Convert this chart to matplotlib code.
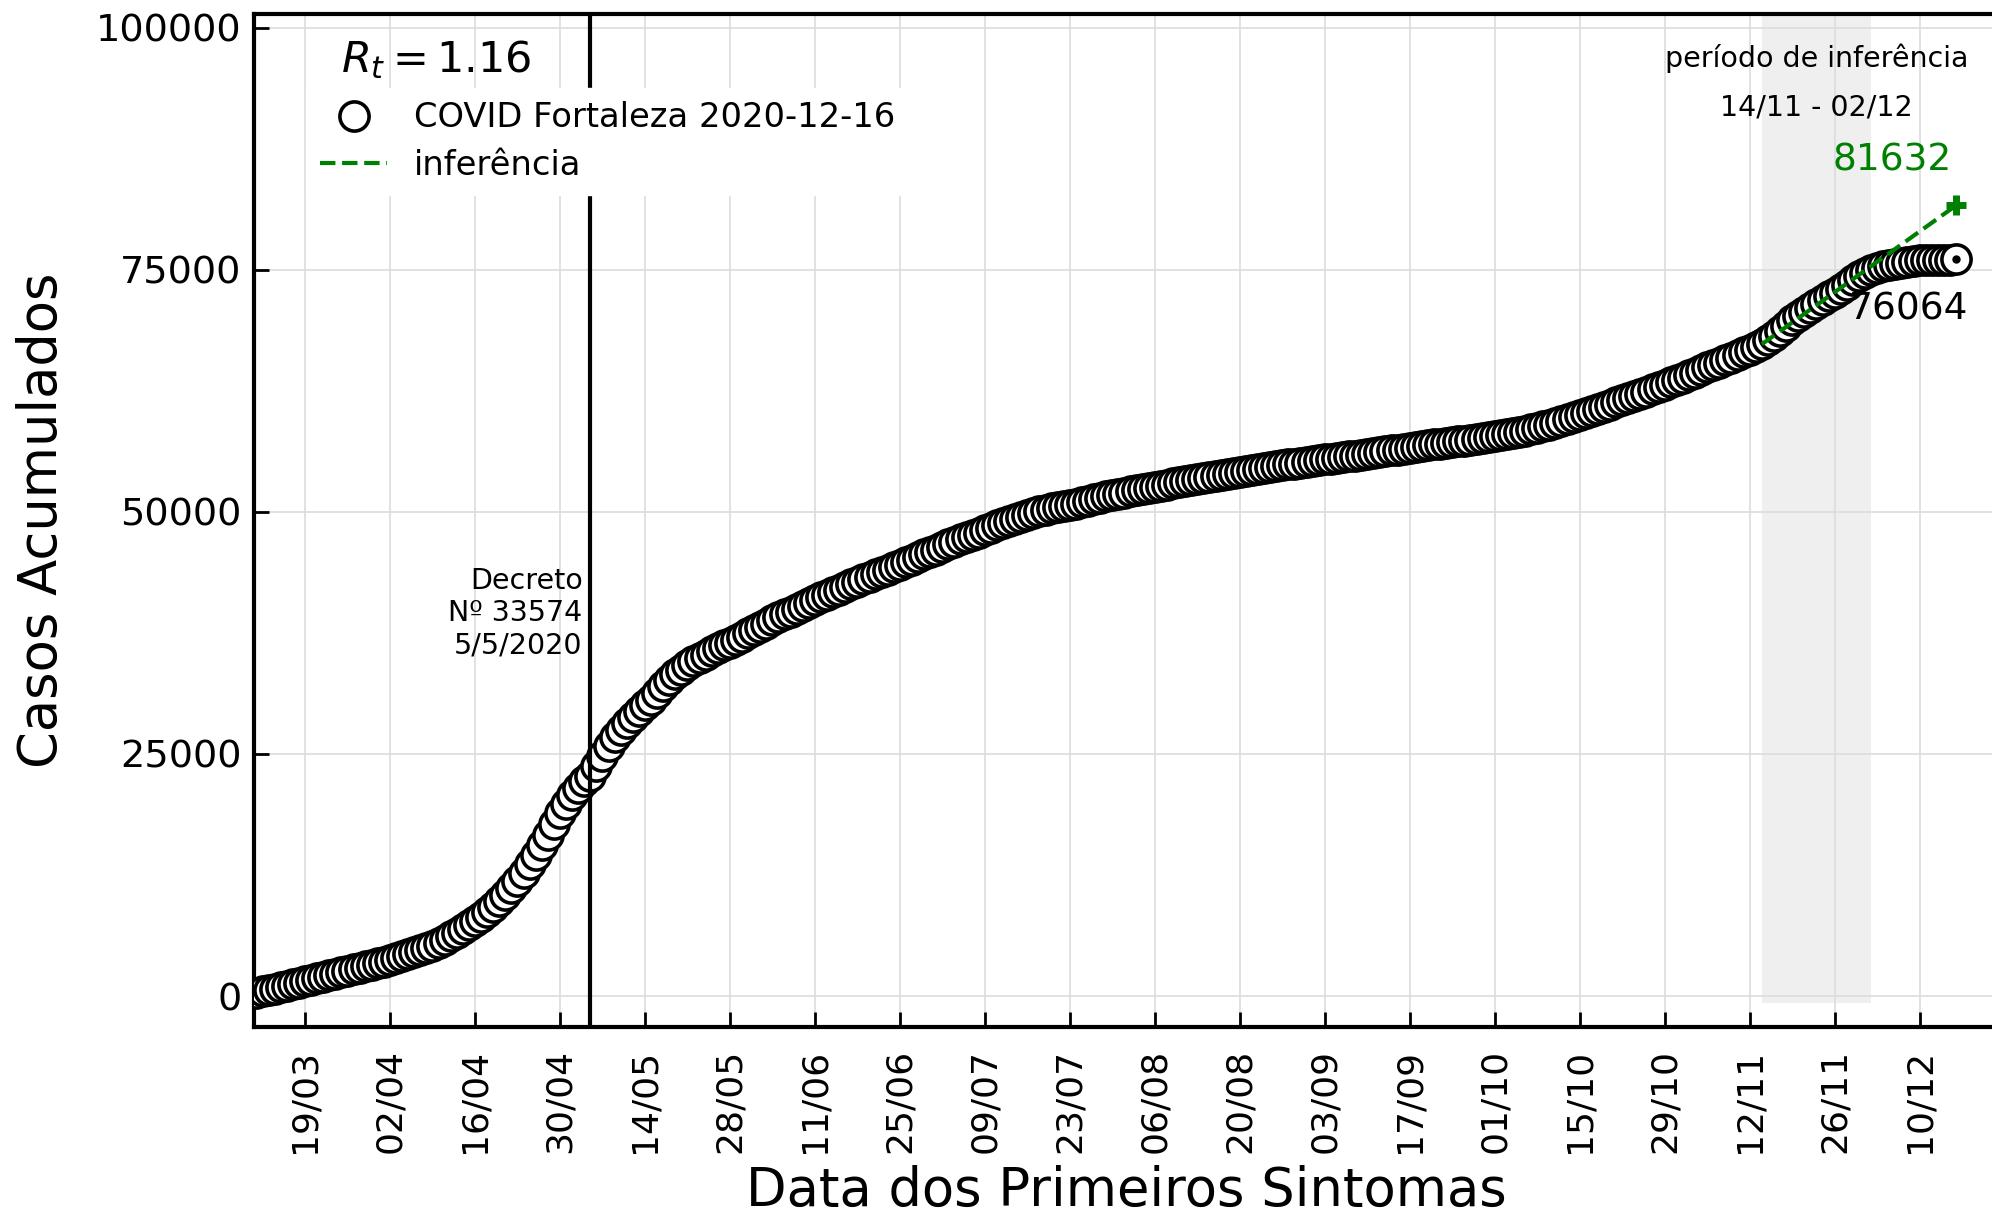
import matplotlib
matplotlib.use('Agg')
import matplotlib.pyplot as plt
import matplotlib.dates as mdates
import matplotlib.transforms as mtransforms
import numpy as np
import pandas as pd

# casos acumulados por data de primeiros sintomas (11/03 a 16/12/2020)
casos = [
    300, 480, 620, 760, 900, 1050, 1200, 1350,
    1500, 1660, 1820, 1980, 2130, 2290, 2440,
    2600, 2750, 2900, 3060, 3220, 3380, 3540,
    3700, 3900, 4100, 4300, 4520, 4740, 4970,
    5200, 5500, 5820, 6160, 6520, 6900, 7300,
    7700, 8150, 8650, 9200, 9800, 10450, 11150,
    11900, 12750, 13650, 14600, 15600, 16650, 17750,
    18850, 19850, 20750, 21500, 22150, 22750, 23700, 24750, 25800, 26700,
    27500, 28200, 28850, 29450, 30000,
    30600, 31300, 32000, 32650, 33200, 33700, 34150,
    34550, 34900, 35250, 35600, 35900, 36200, 36500,
    36800, 37100, 37450, 37800, 38100, 38450, 38800,
    39100, 39400, 39650, 39950, 40250, 40600, 40900,
    41200, 41450, 41700, 41950, 42200, 42500, 42800,
    43050, 43300, 43550, 43800, 44000, 44250, 44500,
    44800, 45050, 45300, 45600, 45850, 46100, 46400,
    46650, 46900, 47150, 47400, 47600, 47850, 48100,
    48350, 48600, 48800, 49050, 49250, 49500, 49700,
    49900, 50050, 50200, 50350, 50450, 50600, 50700,
    50850, 51000, 51150, 51300, 51450, 51600, 51700,
    51850, 51950, 52100, 52250, 52350, 52500, 52600,
    52700, 52800, 52950, 53050, 53150, 53300, 53400,
    53500, 53600, 53700, 53800, 53900, 54000, 54100,
    54200, 54300, 54400, 54500, 54600, 54700, 54800,
    54900, 54950, 55050, 55150, 55250, 55300, 55400,
    55500, 55550, 55650, 55750, 55800, 55900, 56000,
    56100, 56150, 56250, 56350, 56400, 56500, 56600,
    56700, 56750, 56850, 56950, 57000, 57100, 57200,
    57300, 57350, 57450, 57550, 57600, 57700, 57800,
    57900, 58000, 58100, 58250, 58350, 58500, 58700,
    58850, 59000, 59200, 59400, 59600, 59800, 60000,
    60200, 60400, 60600, 60850, 61050, 61300, 61500,
    61700, 61950, 62200, 62400, 62650, 62900, 63100,
    63350, 63600, 63850, 64100, 64350, 64650, 64900,
    65150, 65400, 65650, 65900, 66150, 66450, 66700,
    67000, 67350, 67750, 68200, 68650, 69200, 69800,
    70250, 70650, 71050, 71450, 71850, 72250, 72600,
    73000, 73450, 73900, 74350, 74700, 74950, 75150,
    75350, 75500, 75600, 75700, 75800, 75900, 75950,
    75980, 76000, 76020, 76040, 76050, 76064,
]
datas = pd.date_range('2020-03-11', '2020-12-16', freq='D')

# curva de inferencia
inf_datas = pd.to_datetime(['2020-11-14', '2020-12-16'])
inf_vals = [67300, 81632]

periodo = pd.to_datetime(['2020-11-14', '2020-12-02'])
decreto = pd.Timestamp('2020-05-05')
rt = 1.16
xticks = pd.date_range('2020-03-19', '2020-12-10', freq='14D')

fig = plt.figure(figsize=(19.92, 12.2), dpi=100)
ax = fig.add_axes([254/1992, (1220-1027)/1220, (1998-254)/1992, (1027-14)/1220])

ax.axvspan(periodo[0], periodo[1], ymin=0.024, color='#efefef', lw=0, zorder=1)
ax.grid(True, color='#dcdcdc', lw=1.2)

ax.plot(datas, casos, 'o', ms=21, mfc='white', mec='black', mew=2.6,
        label='COVID Fortaleza 2020-12-16', zorder=3)
ax.plot(datas[-1], casos[-1], 'o', ms=5, color='black', zorder=4)
ax.plot(inf_datas, inf_vals, '--', color='green', lw=3, label='inferência', zorder=4)
ax.plot(inf_datas[-1], inf_vals[-1], '+', color='green', ms=14, mew=5, zorder=5)
ax.axvline(decreto, color='black', lw=3, zorder=3.5)

ax.text(decreto - pd.Timedelta(hours=30), 39500, 'Decreto\nNº 33574\n5/5/2020',
        ha='right', va='center', fontsize=20.5, multialignment='right')

ax.annotate(str(inf_vals[-1]), (inf_datas[-1], inf_vals[-1]), xytext=(-46, 32),
            textcoords='offset points', ha='center', va='center', fontsize=27, color='green')
ax.annotate(str(casos[-1]), (datas[-1], casos[-1]), xytext=(-34, -36),
            textcoords='offset points', ha='center', va='center', fontsize=27, color='black')

trans = mtransforms.blended_transform_factory(ax.transData, ax.transAxes)
meio = periodo[0] + (periodo[1] - periodo[0]) / 2
ax.text(meio, 0.9566, 'período de inferência', transform=trans, ha='center', va='center', fontsize=20.5)
ax.text(meio, 0.908, periodo[0].strftime('%d/%m') + ' - ' + periodo[1].strftime('%d/%m'),
        transform=trans, ha='center', va='center', fontsize=20.5)

ax.text(0.05, 0.943, r'$R_t = %.2f$' % rt, transform=ax.transAxes, fontsize=31, va='baseline')

leg = ax.legend(loc='upper left', bbox_to_anchor=(0.03, 0.927), borderaxespad=0, fontsize=24.3,
                frameon=True, framealpha=1, edgecolor='white', fancybox=False,
                labelspacing=0.42, handlelength=2.0, handletextpad=0.8, numpoints=1)
leg.set_zorder(6)

xmin = pd.Timestamp('2020-03-19') - pd.Timedelta(days=51/6.07)
xmax = xmin + pd.Timedelta(days=1744/6.07)
ax.set_xlim(xmin, xmax)
ax.set_ylim(-3200, 101400)
ax.set_yticks([0, 25000, 50000, 75000, 100000])
ax.set_xticks(xticks)
ax.xaxis.set_major_formatter(mdates.DateFormatter('%d/%m'))
plt.setp(ax.get_xticklabels(), rotation=90)

ax.tick_params(direction='in', length=11, width=2, labelsize=26)
ax.tick_params(axis='x', pad=16)
ax.tick_params(axis='y', pad=9, labelsize=27.5)
for s in ax.spines.values():
    s.set_linewidth(3)

ax.set_xlabel('Data dos Primeiros Sintomas', fontsize=38, labelpad=8)
ax.set_ylabel('Casos Acumulados', fontsize=38, labelpad=20)

fig.savefig('out.png', dpi=100)
